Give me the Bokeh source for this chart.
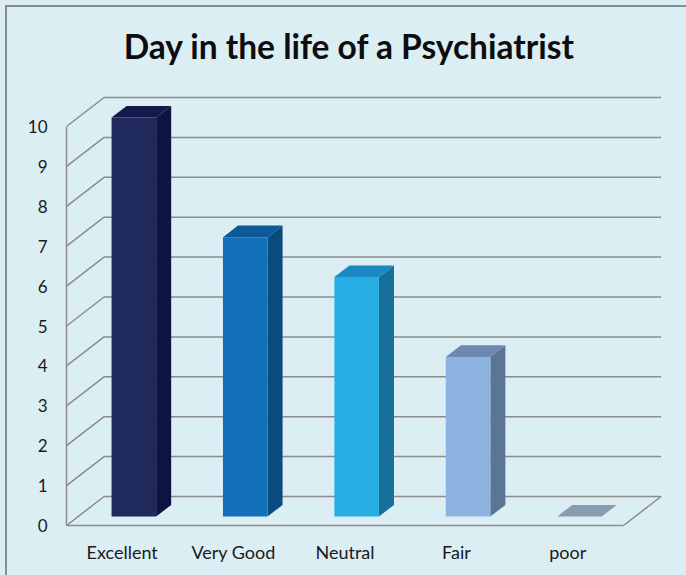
from bokeh.plotting import figure
from bokeh.models import Range1d, FixedTicker, Label
from bokeh.embed import file_html
from bokeh.resources import INLINE

# ---- data ----
categories = ["Excellent", "Very Good", "Neutral", "Fair", "poor"]
values = [10, 7, 6, 4, 0]
y_ticks = [0, 1, 2, 3, 4, 5, 6, 7, 8, 9, 10]
title_text = "Day in the life of a Psychiatrist"

# ---- styles ----
front_colors = ["#1F295C", "#1270B8", "#27AEE4", "#8DB3E1", "#8C9CB0"]
side_colors = ["#0D1441", "#0A4A7F", "#16709A", "#5B7595", "#8C9CB0"]
top_colors = ["#131A4B", "#0C5A99", "#1A89C1", "#6E88AF", "#8C9CB0"]
BG = "#DBEEF4"
GRID = "#8C8C8C"
TEXT = "#1A1A1A"

# 3D projection (data units)
DX = 0.3375   # depth shift along x (category units)
DY = 0.727    # depth shift along y (value units)
D0, D1 = 0.31, 0.71   # bar depth extent
B0, B1 = 0.3, 0.7     # bar extent inside slot

def proj(cx, v, d):
    return cx + d * DX, v + d * DY

n = len(categories)
W, H = 686, 575
PX_X, PX_Y = 111.4, 39.9
p = figure(width=W, height=H, output_backend="svg", toolbar_location=None,
           x_range=Range1d(0, (W - 66 - 4) / PX_X),
           y_range=Range1d(0, (H - 50) / PX_Y),
           min_border_left=66, min_border_right=4, min_border_top=0,
           min_border_bottom=50)
p.background_fill_color = None
p.border_fill_color = None
p.outline_line_color = None
p.xgrid.visible = False
p.ygrid.visible = False
p.styles = {
    "background": ("linear-gradient(#8C8C8C,#8C8C8C) 5px 5px / 2px 100% no-repeat, "
                   "linear-gradient(#8C8C8C,#8C8C8C) 5px 5px / 100% 2px no-repeat, "
                   + BG),
}

# gridlines on left wall + back wall
gx, gy = [], []
for v in y_ticks:
    a = proj(0, v, 0); b = proj(0, v, 1); c = proj(n, v, 1)
    gx.append([a[0], b[0], c[0]]); gy.append([a[1], b[1], c[1]])
a = proj(n, 0, 0); b = proj(n, 0, 1)
gx.append([a[0], b[0]]); gy.append([a[1], b[1]])
p.multi_line(gx, gy, line_color=GRID, line_width=1.5)

# bars
sx, sy, tx, ty, fx, fy = [], [], [], [], [], []
for i, v in enumerate(values):
    l, r = i + B0, i + B1
    pts = [proj(r, 0, D0), proj(r, v, D0), proj(r, v, D1), proj(r, 0, D1)]
    sx.append([q[0] for q in pts]); sy.append([q[1] for q in pts])
    pts = [proj(l, v, D0), proj(r, v, D0), proj(r, v, D1), proj(l, v, D1)]
    tx.append([q[0] for q in pts]); ty.append([q[1] for q in pts])
    pts = [proj(l, 0, D0), proj(r, 0, D0), proj(r, v, D0), proj(l, v, D0)]
    fx.append([q[0] for q in pts]); fy.append([q[1] for q in pts])
p.patches(sx, sy, fill_color=side_colors, line_color=None)
p.patches(tx, ty, fill_color=top_colors, line_color=None)
p.patches(fx, fy, fill_color=front_colors, line_color=None)

# axes
p.yaxis.ticker = FixedTicker(ticks=y_ticks)
p.yaxis.bounds = (0, 10)
p.yaxis.major_tick_out = 0
p.yaxis.major_tick_in = 0
p.yaxis.minor_tick_out = 0
p.yaxis.minor_tick_in = 0
p.yaxis.axis_line_color = GRID
p.yaxis.axis_line_width = 1.5
p.yaxis.major_label_standoff = 19
p.yaxis.major_label_text_font = "Lato"
p.yaxis.major_label_text_font_size = "17px"
p.yaxis.major_label_text_color = TEXT

xt = [i + 0.5 for i in range(n)]
p.xaxis.ticker = FixedTicker(ticks=xt)
p.xaxis.major_label_overrides = {t: c for t, c in zip(xt, categories)}
p.xaxis.bounds = (0, n)
p.xaxis.major_tick_out = 0
p.xaxis.major_tick_in = 0
p.xaxis.minor_tick_out = 0
p.xaxis.minor_tick_in = 0
p.xaxis.axis_line_color = GRID
p.xaxis.axis_line_width = 1.5
p.xaxis.major_label_standoff = 15
p.xaxis.major_label_text_font = "Lato"
p.xaxis.major_label_text_font_size = "18px"
p.xaxis.major_label_text_color = TEXT

p.add_layout(Label(x=(349 - 66) / PX_X, y=(525 - 45) / PX_Y, text=title_text,
                   text_align="center", text_baseline="alphabetic",
                   text_font="Lato", text_font_style="bold",
                   text_font_size="33.5px", text_color="#0D0D0D"))

open("out.html", "w").write(file_html(p, INLINE))
